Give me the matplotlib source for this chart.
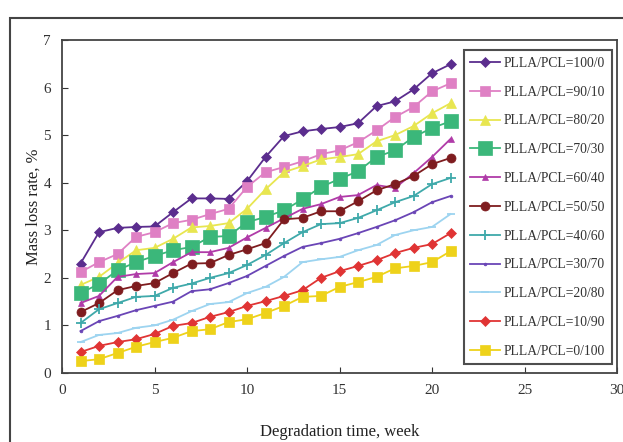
import matplotlib.pyplot as plt
from matplotlib.patches import Rectangle

# Semanas de degradação
semanas = list(range(1, 22))

# Taxa de perda de massa (%) para cada composição PLLA/PCL
s100_0 = [2.30, 2.96, 3.05, 3.07, 3.08, 3.38, 3.67, 3.67, 3.66, 4.03, 4.54, 4.98, 5.08, 5.13, 5.17, 5.25, 5.61, 5.71, 5.96, 6.30, 6.49]
s90_10 = [2.12, 2.33, 2.50, 2.86, 2.96, 3.15, 3.22, 3.34, 3.45, 3.91, 4.22, 4.33, 4.45, 4.60, 4.68, 4.85, 5.10, 5.38, 5.59, 5.92, 6.09]
s80_20 = [1.85, 2.02, 2.31, 2.58, 2.63, 2.82, 3.06, 3.09, 3.15, 3.45, 3.86, 4.22, 4.35, 4.49, 4.54, 4.60, 4.87, 5.00, 5.19, 5.46, 5.67]
s70_30 = [1.68, 1.87, 2.16, 2.33, 2.46, 2.58, 2.65, 2.86, 2.88, 3.17, 3.28, 3.42, 3.65, 3.91, 4.08, 4.24, 4.54, 4.68, 4.96, 5.15, 5.29]
s60_40 = [1.47, 1.62, 2.02, 2.08, 2.10, 2.33, 2.54, 2.54, 2.63, 2.85, 3.05, 3.25, 3.45, 3.55, 3.70, 3.74, 3.95, 3.89, 4.20, 4.54, 4.92]
s50_50 = [1.28, 1.47, 1.74, 1.83, 1.89, 2.10, 2.30, 2.31, 2.48, 2.60, 2.73, 3.23, 3.26, 3.40, 3.40, 3.61, 3.84, 3.97, 4.14, 4.39, 4.52]
s40_60 = [1.05, 1.34, 1.47, 1.60, 1.62, 1.79, 1.88, 2.00, 2.10, 2.27, 2.48, 2.73, 2.96, 3.13, 3.15, 3.26, 3.42, 3.59, 3.72, 3.97, 4.10]
s30_70 = [0.88, 1.09, 1.20, 1.32, 1.41, 1.50, 1.72, 1.76, 1.89, 2.04, 2.25, 2.46, 2.65, 2.73, 2.82, 2.94, 3.07, 3.21, 3.38, 3.59, 3.72]
s20_80 = [0.65, 0.80, 0.84, 0.95, 1.00, 1.12, 1.30, 1.45, 1.49, 1.68, 1.81, 2.02, 2.33, 2.39, 2.44, 2.58, 2.69, 2.90, 3.00, 3.07, 3.34]
s10_90 = [0.44, 0.57, 0.65, 0.71, 0.82, 0.99, 1.05, 1.18, 1.28, 1.41, 1.51, 1.62, 1.74, 2.00, 2.14, 2.25, 2.37, 2.52, 2.63, 2.71, 2.94]
s0_100 = [0.25, 0.29, 0.42, 0.55, 0.65, 0.74, 0.88, 0.92, 1.07, 1.13, 1.26, 1.41, 1.60, 1.62, 1.81, 1.91, 2.02, 2.20, 2.25, 2.33, 2.56]

rotulos = ["PLLA/PCL=100/0", "PLLA/PCL=90/10", "PLLA/PCL=80/20", "PLLA/PCL=70/30",
           "PLLA/PCL=60/40", "PLLA/PCL=50/50", "PLLA/PCL=40/60", "PLLA/PCL=30/70",
           "PLLA/PCL=20/80", "PLLA/PCL=10/90", "PLLA/PCL=0/100"]
series = [s100_0, s90_10, s80_20, s70_30, s60_40, s50_50, s40_60, s30_70, s20_80, s10_90, s0_100]

# Estilo de cada série: cor, marcador, tamanho
cores = ["#5b2d8e", "#df80c4", "#e8e650", "#3bb77a", "#b03ba8", "#7e1c1f",
         "#3fa9aa", "#6a45b6", "#9dd4f0", "#e03434", "#eed21a"]
marcadores = ["D", "s", "^", "s", "^", "o", "+", ".", "_", "D", "s"]
tamanhos = [5.5, 6.5, 6.5, 9.5, 4, 6.5, 6.5, 4, 6, 5.5, 6.5]

plt.rcParams["font.family"] = "Liberation Serif"

fig = plt.figure(figsize=(6.23, 4.42), dpi=100)
ax = fig.add_axes([62 / 623, 1 - 373 / 442, 555 / 623, 333 / 442])

for valores, rot, cor, mk, ms in zip(series, rotulos, cores, marcadores, tamanhos):
    ax.plot(semanas, valores, color=cor, marker=mk, markersize=ms, linewidth=1.3,
            markeredgewidth=1.3 if mk in ["+", "_"] else 0.5, label=rot)

ax.set_xlim(0, 30)
ax.set_ylim(0, 7)
ax.set_xticks(range(0, 31, 5))
ax.set_yticks(range(0, 8))
ax.tick_params(direction="in", length=4, labelsize=11, colors="#333333", pad=8)
for sp in ax.spines.values():
    sp.set_color("#444444")
    sp.set_linewidth(1.3)

ax.set_xlabel("Degradation time, week", fontsize=12, color="#222222", labelpad=19)
ax.set_ylabel("Mass loss rate, %", fontsize=12, color="#222222", labelpad=1)

leg = ax.legend(loc="upper right", bbox_to_anchor=(0.991, 0.97), borderaxespad=0,
                fontsize=9.8, frameon=True, fancybox=False, edgecolor="#222222",
                labelspacing=1.16, handlelength=2.2, borderpad=0.5, handletextpad=0.25)
leg.get_frame().set_linewidth(1.5)
for t in leg.get_texts():
    t.set_color("#333333")

# Moldura externa da figura
fig.patches.append(Rectangle((10 / 623, -0.1), 1.2, 1.1 - 18 / 442,
                             transform=fig.transFigure, fill=False,
                             edgecolor="#444444", linewidth=1.5))

plt.savefig("out.png", dpi=100)
